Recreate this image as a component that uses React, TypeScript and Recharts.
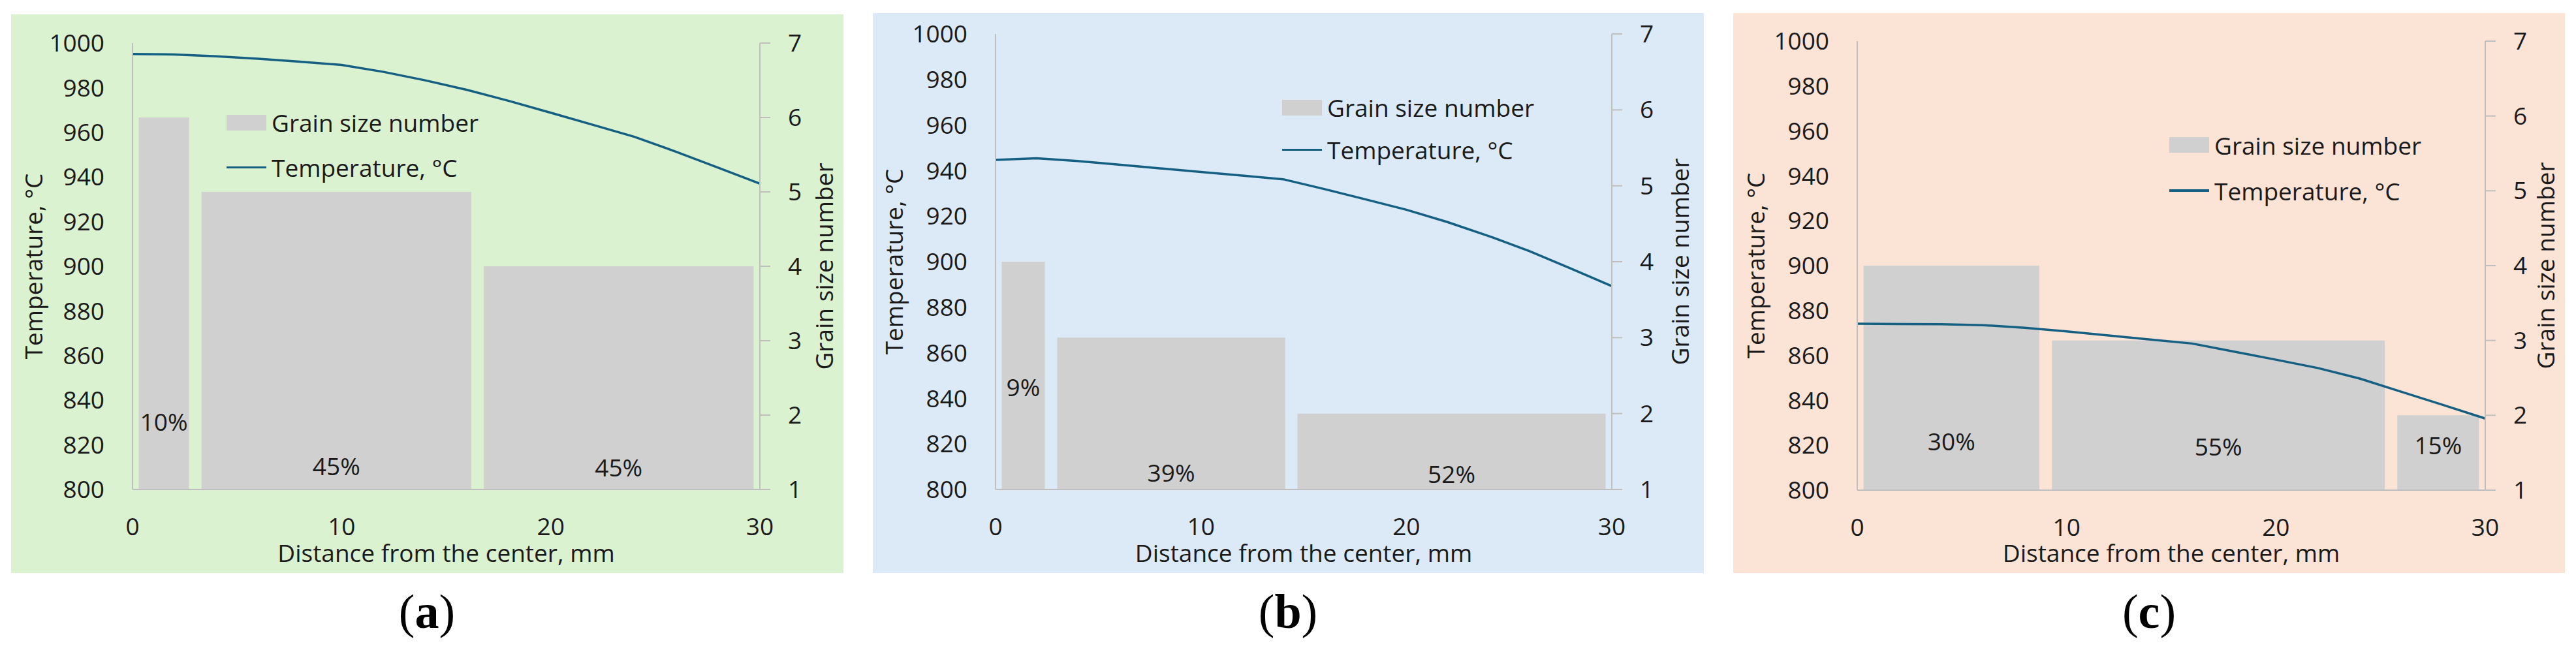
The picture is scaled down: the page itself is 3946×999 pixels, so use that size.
import React from "react";
import { ComposedChart, Line, XAxis, YAxis, ReferenceArea, Legend } from "recharts";

// Distance from the centre (mm) at which temperature was read
const distance = [0, 2, 4, 6, 8, 10, 12, 14, 16, 18, 20, 22, 24, 26, 28, 30];

// Temperature profiles, °C
const tempA = [995.1, 994.9, 994.1, 993.0, 991.7, 990.2, 987.1, 983.3, 979.0, 974.1, 968.8, 963.4, 958.0, 951.3, 944.2, 937.0];
const tempB = [944.7, 945.4, 944.2, 942.6, 941.0, 939.4, 937.8, 936.2, 931.9, 927.4, 922.8, 917.4, 911.3, 904.6, 897.0, 889.3];
const tempC = [874.1, 874.0, 873.9, 873.5, 872.3, 870.7, 868.9, 867.1, 865.3, 861.7, 858.1, 854.4, 849.7, 843.8, 837.9, 831.9];

// Grain size zones: edges (mm), grain size number, share of the section
const edgesA = [0, 3, 16.5, 30];
const grainA = [6, 5, 4];
const shareA = ["10%", "45%", "45%"];

const edgesB = [0, 2.7, 14.4, 30];
const grainB = [4, 3, 2];
const shareB = ["9%", "39%", "52%"];

const edgesC = [0, 9, 25.5, 30];
const grainC = [4, 3, 2];
const shareC = ["30%", "55%", "15%"];

const distanceTicks = [0, 10, 20, 30];
const tempTicks = [800, 820, 840, 860, 880, 900, 920, 940, 960, 980, 1000];
const grainTicks = [1, 2, 3, 4, 5, 6, 7];

const seriesNames = ["Grain size number", "Temperature, °C"];
const xTitle = "Distance from the center, mm";
const yTitle = "Temperature, °C";
const y2Title = "Grain size number";
const captions = ["a", "b", "c"];

const FONT = "'Open Sans', 'Noto Sans', sans-serif";
const TEXT = "#1a1a1a";
const AXIS = "#bfbfbf";
const BAR = "#d0d0d0";
const LINE = "#156082";
const FS = 37;
const GAP = 0.3; // mm trimmed off each side of a zone bar

const layouts = [
  { left: 17, top: 22, width: 1275, height: 856, bg: "#daf2d0", plotTop: 44, yW: 186, y2W: 128, xH: 128, yT: 35, y2T: 29, legLeft: 330, legTop: 131, rowH: 69, labelOff: [90, 22, 20], cap: 654 },
  { left: 1337, top: 20, width: 1273, height: 858, bg: "#dceaf7", plotTop: 32, yW: 188, y2W: 141, xH: 128, yT: 33, y2T: 36, legLeft: 627, legTop: 112, rowH: 65, labelOff: [143, 12, 10], cap: 1973 },
  { left: 2655, top: 20, width: 1274, height: 858, bg: "#fbe3d6", plotTop: 43, yW: 190, y2W: 122, xH: 127, yT: 35, y2T: 29, legLeft: 668, legTop: 167, rowH: 70, labelOff: [61, 53, 55], cap: 3292 },
];

const tickStyle = { fill: TEXT, fontSize: FS, fontFamily: FONT };

function LegendBox({ rowH }: { rowH: number }) {
  const row = { display: "flex", alignItems: "center", height: rowH };
  return (
    <div style={{ fontFamily: FONT, fontSize: FS, color: TEXT, whiteSpace: "nowrap" as const }}>
      <div style={row}>
        <span style={{ display: "inline-block", width: 61, height: 24, background: BAR }} />
        <span style={{ marginLeft: 8 }}>{seriesNames[0]}</span>
      </div>
      <div style={row}>
        <span style={{ display: "inline-block", width: 61, height: 3.5, background: LINE }} />
        <span style={{ marginLeft: 8 }}>{seriesNames[1]}</span>
      </div>
    </div>
  );
}

function Panel({ p, temps, edges, grain, shares }: any) {
  const data = distance.map((d, i) => ({ distance: d, temp: temps[i] }));
  return (
    <div style={{ position: "absolute", left: p.left, top: p.top, width: p.width, height: p.height, background: p.bg }}>
      <ComposedChart width={p.width} height={p.height} data={data} margin={{ top: p.plotTop, right: 0, bottom: 0, left: 0 }}>
        <XAxis
          dataKey="distance"
          type="number"
          domain={[0, 30]}
          ticks={distanceTicks}
          interval={0}
          height={p.xH}
          axisLine={{ stroke: AXIS, strokeWidth: 2 }}
          tickLine={false}
          tickSize={0}
          tickMargin={44}
          tick={tickStyle}
          label={{ value: xTitle, position: "insideBottom", offset: 17, fill: TEXT, fontSize: FS, fontFamily: FONT }}
        />
        <YAxis
          yAxisId="temp"
          domain={[800, 1000]}
          ticks={tempTicks}
          interval={0}
          width={p.yW}
          axisLine={{ stroke: AXIS, strokeWidth: 2 }}
          tickLine={false}
          tickSize={0}
          tickMargin={43}
          tick={tickStyle}
          label={{ value: yTitle, angle: -90, position: "insideLeft", offset: p.yT, style: { textAnchor: "middle" }, fill: TEXT, fontSize: FS, fontFamily: FONT }}
        />
        <YAxis
          yAxisId="grain"
          orientation="right"
          type="number"
          domain={[1, 7]}
          allowDataOverflow
          ticks={grainTicks}
          interval={0}
          width={p.y2W}
          axisLine={{ stroke: AXIS, strokeWidth: 2 }}
          tickLine={{ stroke: AXIS, strokeWidth: 2 }}
          tickSize={16}
          tickMargin={27}
          tick={tickStyle}
          label={{ value: y2Title, angle: -90, position: "insideRight", offset: p.y2T, style: { textAnchor: "middle" }, fill: TEXT, fontSize: FS, fontFamily: FONT }}
        />
        {grain.map((g: number, i: number) => (
          <ReferenceArea
            key={i}
            yAxisId="grain"
            x1={edges[i] + GAP}
            x2={edges[i + 1] - GAP}
            y1={1}
            y2={g}
            ifOverflow="extendDomain"
            fill={BAR}
            fillOpacity={1}
            stroke="none"
            label={{ value: shares[i], position: "insideBottom", offset: p.labelOff[i], fill: TEXT, fontSize: FS, fontFamily: FONT }}
          />
        ))}
        <Line
          yAxisId="temp"
          dataKey="temp"
          name={seriesNames[1]}
          type="linear"
          stroke={LINE}
          strokeWidth={3.5}
          dot={false}
          activeDot={false}
          isAnimationActive={false}
        />
        <Legend
          layout="vertical"
          align="center"
          verticalAlign="middle"
          content={() => <LegendBox rowH={p.rowH} />}
          wrapperStyle={{ position: "absolute", left: p.legLeft, top: p.legTop, width: 560, height: "auto" }}
        />
      </ComposedChart>
    </div>
  );
}

export default function App() {
  return (
    <div style={{ position: "absolute", left: 0, top: 0, width: 3946, height: 999, background: "#ffffff", overflow: "hidden" }}>
      <Panel p={layouts[0]} temps={tempA} edges={edgesA} grain={grainA} shares={shareA} />
      <Panel p={layouts[1]} temps={tempB} edges={edgesB} grain={grainB} shares={shareB} />
      <Panel p={layouts[2]} temps={tempC} edges={edgesC} grain={grainC} shares={shareC} />
      {captions.map((c, i) => (
        <div
          key={c}
          style={{
            position: "absolute",
            left: layouts[i].cap - 100,
            top: 900,
            width: 200,
            textAlign: "center",
            fontFamily: "'Liberation Serif', 'DejaVu Serif', serif",
            fontSize: 74,
            lineHeight: 1,
            color: "#000",
          }}
        >
          (<b>{c}</b>)
        </div>
      ))}
    </div>
  );
}
